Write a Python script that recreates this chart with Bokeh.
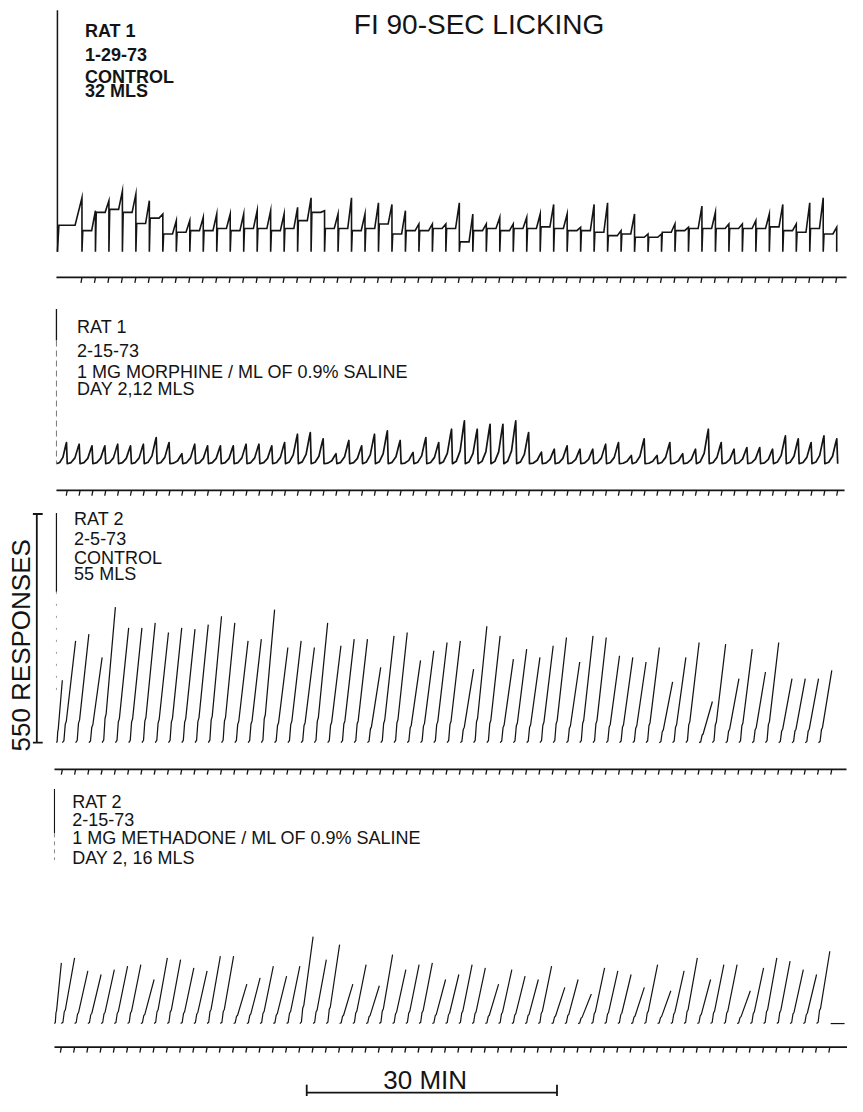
import math
from bokeh.plotting import figure
from bokeh.models import Range1d
from bokeh.embed import file_html
from bokeh.resources import INLINE
from bokeh.core.properties import value

# ---------------- data: responses at the end of each FI interval ----------------
rat1_control_peaks = [130, 99, 123, 146, 139, 123, 91, 75, 75, 83, 91, 91, 91, 99, 99, 91, 107, 130, 99,
                      91, 130, 91, 118, 114, 99, 67, 67, 67, 118, 91, 67, 83, 67, 83, 91, 114, 91, 59,
                      114, 118, 51, 91, 43, 43, 67, 59, 110, 95, 67, 67, 75, 91, 114, 67, 118, 130, 59]
rat1_control_plateau = [64, 51, 95, 102, 95, 68, 81, 43, 47, 51, 51, 56, 51, 56, 56, 51, 56, 75, 95,
                        56, 56, 51, 56, 67, 43, 51, 51, 56, 56, 24, 51, 56, 51, 56, 56, 60, 56, 51,
                        51, 47, 39, 43, 35, 35, 47, 51, 56, 56, 56, 56, 56, 56, 60, 51, 47, 56, 43]
rat1_morphine_peaks = [51, 47, 43, 43, 47, 43, 47, 63, 51, 24, 47, 43, 43, 43, 47, 47, 43, 51, 71, 75,
                       60, 24, 56, 43, 71, 79, 56, 27, 63,
                       51, 83, 103, 83, 95, 95, 103, 75, 28, 35, 43, 35, 35, 47, 51, 20, 60, 20, 51,
                       24, 35, 83, 51, 35, 39, 39, 35, 67, 60, 51, 67, 60]
rat2_control_peaks = [150, 245, 261, 205, 326, 276, 276, 288, 265, 276, 273, 284, 304, 288, 245, 249,
                      320, 229, 245, 229, 288, 233, 249, 249, 181, 257, 265,
                      198, 221, 241, 245, 177, 280, 257, 201, 225, 205, 233, 253, 194, 257, 253, 209,
                      205, 194, 229, 146, 205, 241, 99, 237, 154, 225, 170, 241, 154, 154, 154, 174]
rat2_methadone_peaks = [146, 158, 127, 118, 130, 138, 142, 106, 158, 154, 134, 127, 162, 162, 95, 110,
                        138, 114, 138, 209, 154, 190, 95, 142, 91, 166, 130, 142,
                        146, 106, 118, 142, 134, 95, 130, 114, 106, 138, 87, 106, 71, 134, 127, 118,
                        87, 142, 79, 127, 158, 106, 142, 142, 79, 134, 158, 150, 130, 118, 174]

title_text = "FI 90-SEC LICKING"
labels_rat1_control = ["RAT 1", "1-29-73", "CONTROL", "32 MLS"]
labels_rat1_morphine = ["RAT 1", "2-15-73", "1 MG MORPHINE / ML OF 0.9% SALINE", "DAY 2,12 MLS"]
labels_rat2_control = ["RAT 2", "2-5-73", "CONTROL", "55 MLS"]
labels_rat2_methadone = ["RAT 2", "2-15-73", "1 MG METHADONE / ML OF 0.9% SALINE", "DAY 2, 16 MLS"]
scale_label = "550 RESPONSES"
scale_responses = 550
time_label = "30 MIN"
time_bar_minutes = 30

# ---------------- layout ----------------
REF_W, REF_H = 863, 1112
PX_PER_MIN = 8.5
RESP_PER_PX = 550 / 232.0
X0_PX = 57
BASE_SHIFT = 0.38   # correction of the rendered text baseline, in em


def X(px):
    return (px - X0_PX) / PX_PER_MIN


def Y(py):
    return (REF_H - py) * RESP_PER_PX


INK = "#141414"
FONT = value("Liberation Sans")

p = figure(width=847, height=1096, output_backend="svg", toolbar_location=None,
           x_range=Range1d(X(0), X(REF_W)), y_range=Range1d(0, Y(0)),
           min_border=0, background_fill_color="white", border_fill_color="white")
p.axis.visible = False
p.grid.visible = False
p.outline_line_color = None


def bounds(start_px, first_end_px, last_end_px, n):
    a, b = X(first_end_px), X(last_end_px)
    sp = (b - a) / (n - 1)
    return [X(start_px)] + [a + k * sp for k in range(n)]


def event_line(b, ev_py, x_start, x_end):
    ev = Y(ev_py)
    p.line([X(x_start), X(x_end)], [ev, ev], line_color=INK, line_width=1.8)
    ts = b[1:]
    p.segment(x0=ts, y0=[ev] * len(ts), x1=[t - 0.12 for t in ts], y1=[ev - 13] * len(ts),
              line_color=INK, line_width=1.3)


# ---- panel 1: rat 1 control (step records) ----
b1 = bounds(58, 83, 852, len(rat1_control_peaks))
base1 = Y(255)
xs, ys = [], []
for i, (pk, pl) in enumerate(zip(rat1_control_peaks, rat1_control_plateau)):
    t0, t1 = b1[i], b1[i + 1]
    d = t1 - t0
    xs += [t0, t0 + 0.06 * d, t0 + 0.72 * d, t1, t1]
    ys += [base1, base1 + pl, base1 + pl, base1 + pk, base1]
p.line(xs, ys, line_color=INK, line_width=1.6, line_join="miter")
p.line([X(58), X(58)], [Y(10), base1], line_color=INK, line_width=1.5)
event_line(b1, 281, 57, 862)

# ---- panel 2: rat 1 morphine (scallops) ----
b2 = bounds(57, 68, 853, len(rat1_morphine_peaks))
base2 = Y(470)
xs, ys = [], []
for i, pk in enumerate(rat1_morphine_peaks):
    t0, t1 = b2[i], b2[i + 1]
    d = t1 - t0
    xs += [t0, t0 + 0.3 * d, t0 + 0.6 * d, t0 + 0.85 * d, t0 + 0.93 * d, t1]
    ys += [base2, base2 + 0.06 * pk, base2 + 0.3 * pk, base2 + 0.85 * pk, base2 + pk, base2]
p.line(xs, ys, line_color=INK, line_width=1.7, line_join="round")
p.line([X(57), X(57)], [Y(313), Y(345)], line_color=INK, line_width=1.3)
p.line([X(57), X(57)], [Y(345), base2], line_color="#777777", line_width=1.0, line_dash="6 4")
event_line(b2, 497, 57, 860)

# ---- panel 3: rat 2 control (ramps, resets not inked) ----
b3 = bounds(57, 63, 847, len(rat2_control_peaks))
base3 = Y(753)
xs, ys = [], []
for i, pk in enumerate(rat2_control_peaks):
    t0, t1 = b3[i], b3[i + 1]
    d = t1 - t0
    xs += [t0, t0 + 0.12 * d, t0 + 0.22 * d, t0 + 0.3 * d, t1, float("nan")]
    ys += [base3, base3 + 0.02 * pk, base3 + 0.18 * pk, base3 + 0.21 * pk, base3 + pk, float("nan")]
p.line(xs, ys, line_color=INK, line_width=1.25, line_join="round")
p.line([X(57), X(57)], [Y(520), Y(600)], line_color=INK, line_width=1.2)
p.line([X(57), X(57)], [Y(600), Y(700)], line_color="#999999", line_width=1.0, line_dash="2 10")
event_line(b3, 780, 55, 862)

# ---- panel 4: rat 2 methadone ----
b4 = bounds(55, 62, 845, len(rat2_methadone_peaks))
base4 = Y(1038)
xs, ys = [], []
for i, pk in enumerate(rat2_methadone_peaks):
    t0, t1 = b4[i], b4[i + 1]
    d = t1 - t0
    xs += [t0, t0 + 0.12 * d, t0 + 0.22 * d, t0 + 0.3 * d, t1, float("nan")]
    ys += [base4, base4 + 0.02 * pk, base4 + 0.18 * pk, base4 + 0.21 * pk, base4 + pk, float("nan")]
p.line(xs, ys, line_color=INK, line_width=1.2, line_join="round")
p.line([b4[-1] + 0.1, X(860)], [base4, base4], line_color=INK, line_width=1.2)
p.line([X(55), X(55)], [Y(800), Y(845)], line_color=INK, line_width=1.1)
p.line([X(55), X(55)], [Y(845), Y(872)], line_color="#888888", line_width=1.0, line_dash="4 4")
event_line(b4, 1062, 55, 863)


# ---------------- texts ----------------
def put_text(lines, x_px, baselines, size, style="normal"):
    sh = BASE_SHIFT * size
    p.text(x=[X(x_px)] * len(lines), y=[Y(b - sh) for b in baselines], text=lines, text_font=FONT,
           text_font_size=f"{size}px", text_font_style=style, text_color=INK,
           text_baseline="alphabetic", text_align="left")


put_text([title_text], 360, [35], 28)
put_text(labels_rat1_control, 86, [38, 62, 84, 99], 18, "bold")
put_text(labels_rat1_morphine, 78, [338, 362, 384, 401], 18)
put_text(labels_rat2_control, 75, [533, 553, 572, 589], 18)
put_text(labels_rat2_methadone, 73, [820, 838, 857, 877], 18)
put_text([time_label], 390, [1105], 26)

# response scale bracket
sx = X(37)
p.line([sx, sx], [base3, base3 + scale_responses], line_color=INK, line_width=1.8)
p.segment(x0=[X(33), X(33)], y0=[base3, base3 + scale_responses], x1=[X(43), X(43)],
          y1=[base3, base3 + scale_responses], line_color=INK, line_width=1.8)
fs_scale = 26
p.text(x=[X(31 - BASE_SHIFT * fs_scale)], y=[Y(762)], text=[scale_label], angle=math.pi / 2,
       text_font=FONT, text_font_size=f"{fs_scale}px", text_color=INK,
       text_baseline="alphabetic", text_align="left")

# time bar
t_a = X(312)
t_b = t_a + time_bar_minutes
yb = Y(1108)
p.line([t_a, t_b], [yb, yb], line_color=INK, line_width=1.8)
p.segment(x0=[t_a, t_b], y0=[Y(1100), Y(1100)], x1=[t_a, t_b], y1=[Y(1112), Y(1112)],
          line_color=INK, line_width=1.8)

open("out.html", "w").write(file_html(p, INLINE))
